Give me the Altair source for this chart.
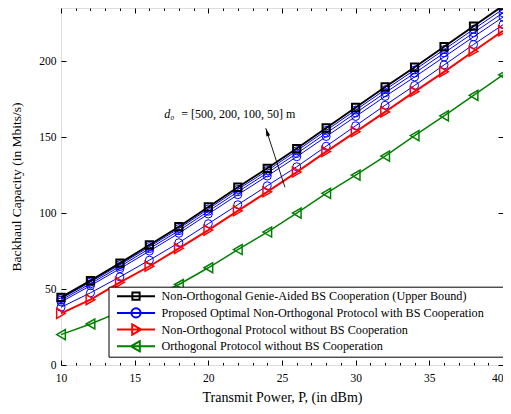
import altair as alt
import pandas as pd

SERIF = "Liberation Serif"

# ---------------- data ----------------
power_dbm = [10, 12, 14, 16, 18, 20, 22, 24, 26, 28, 30, 32, 34, 36, 38, 40]
genie_upper = [44.5, 55.5, 67.0, 79.0, 91.0, 104.0, 117.0, 129.5, 142.5, 156.0, 169.5, 183.0, 196.0, 209.5, 223.0, 236.5]
proposed_d50 = [43.7, 54.6, 66.0, 77.9, 89.8, 102.7, 115.6, 128.0, 141.0, 154.4, 167.8, 181.2, 194.2, 207.6, 221.0, 234.3]
proposed_d100 = [42.7, 53.5, 64.8, 76.6, 88.4, 101.2, 114.0, 126.4, 139.2, 152.6, 165.9, 179.2, 192.1, 205.4, 218.7, 231.8]
proposed_d200 = [41.5, 52.2, 63.4, 75.0, 86.7, 99.4, 112.1, 124.4, 137.1, 150.4, 163.6, 176.8, 189.6, 202.8, 216.0, 229.0]
proposed_d500 = [38.0, 47.5, 58.0, 69.0, 80.5, 93.0, 105.5, 118.0, 130.5, 144.0, 157.5, 171.0, 184.0, 197.5, 211.0, 224.0]
nonorth_nocoop = [34.0, 43.0, 54.4, 65.0, 76.8, 88.8, 101.5, 114.0, 127.0, 140.5, 153.5, 166.6, 180.0, 193.0, 206.5, 220.0]
orth_nocoop = [20.0, 27.0, 35.0, 44.0, 53.0, 64.0, 76.0, 87.5, 100.0, 113.0, 125.0, 137.5, 151.0, 164.0, 177.5, 191.0]

labels = [
    "Non-Orthogonal Genie-Aided BS Cooperation (Upper Bound)",
    "Proposed Optimal Non-Orthogonal Protocol with BS Cooperation",
    "Non-Orthogonal Protocol without BS Cooperation",
    "Orthogonal Protocol without BS Cooperation",
]
colors = ["#000000", "#0000ff", "#ff0000", "#008000"]

x_major = [10, 15, 20, 25, 30, 35, 40]
x_minor = [11, 12, 13, 14, 16, 17, 18, 19, 21, 22, 23, 24, 26, 27, 28, 29,
           31, 32, 33, 34, 36, 37, 38, 39]
y_ticks = [0, 50, 100, 150, 200]

annot_x = [17.0]
annot_y = [165.0]
arrow_from_x = [25.2]
arrow_from_y = [117.0]
arrow_to_x = [23.9]
arrow_to_y = [155.8]

# ---------------- tables ----------------
series = [
    ("genie", labels[0], genie_upper),
    ("d500", labels[1], proposed_d500),
    ("d200", labels[1], proposed_d200),
    ("d100", labels[1], proposed_d100),
    ("d50", labels[1], proposed_d50),
    ("nonorth", labels[2], nonorth_nocoop),
    ("orth", labels[3], orth_nocoop),
]
rows = []
for sid, grp, vals in series:
    for p, v in zip(power_dbm, vals):
        rows.append({"series": sid, "group": grp, "P": p, "C": v})
df = pd.DataFrame(rows)
legend_df = pd.DataFrame({"group": labels})
annot_df = pd.DataFrame({"x": annot_x, "y": annot_y})
arrow_df = pd.DataFrame({"x0": arrow_from_x, "y0": arrow_from_y,
                         "x1": arrow_to_x, "y1": arrow_to_y})

W, H = 442, 357
x_scale = alt.Scale(domain=[10, 40], nice=False, zero=False)
y_scale = alt.Scale(domain=[0, 235], nice=False, zero=False)


def tick_axis(orient, values, size):
    return alt.Axis(orient=orient, offset=-(H if orient in ("top", "bottom") else W),
                    values=values, labels=False, domain=False, grid=False,
                    ticks=True, tickSize=size, tickColor="black", tickWidth=1,
                    title=None)


ax_x_main = alt.Axis(orient="bottom", values=x_major, ticks=False, domain=False, grid=False,
                     labelFont=SERIF, labelFontSize=11.5, labelColor="black", labelPadding=7,
                     labelFlush=False,
                     labelAlign={"condition": {"test": "datum.value == 40", "value": "right"},
                                 "value": "center"},
                     title="Transmit Power, P, (in dBm)", titleFont=SERIF, titleFontSize=14,
                     titleFontWeight="normal", titleColor="black", titleY=36,
                     titleBaseline="alphabetic")
ax_y_main = alt.Axis(orient="left", values=y_ticks, ticks=False, domain=False, grid=False,
                     labelFont=SERIF, labelFontSize=11.5, labelColor="black", labelPadding=5,
                     labelFlush=False,
                     title="Backhaul Capacity (in Mbits/s)", titleFont=SERIF, titleFontSize=13.5,
                     titleFontWeight="normal", titleColor="black", titleX=-44.5, titleY=H / 2,
                     titleAngle=270, titleAlign="center", titleBaseline="middle")


def series_layer(group, color, lw, shape, size, msw, xaxis, yaxis):
    return alt.Chart(df).transform_filter(alt.datum.group == group).mark_line(
        color=color, strokeWidth=lw,
        point=alt.OverlayMarkDef(shape=shape, filled=False, size=size, strokeWidth=msw,
                                 color=color, opacity=1),
    ).encode(
        x=alt.X("P:Q", scale=x_scale, axis=xaxis),
        y=alt.Y("C:Q", scale=y_scale, axis=yaxis),
        detail="series:N",
    )


blue = series_layer(labels[1], colors[1], 1, "circle", 64, 1, ax_x_main, ax_y_main)
red = series_layer(labels[2], colors[2], 2, "triangle-right", 100, 1.5,
                   tick_axis("top", x_major, 5), tick_axis("right", y_ticks, 5))
green = series_layer(labels[3], colors[3], 1.5, "triangle-left", 100, 1.5,
                     tick_axis("bottom", x_major, 5), tick_axis("left", y_ticks, 5))
black = series_layer(labels[0], colors[0], 2, "square", 53, 2,
                     tick_axis("top", x_minor, 2.5), None)

legend_paths = [
    "M-1,0H1M-0.19,-0.19H0.19V0.19H-0.19Z",
    "M-1,0H1M-0.24,0A0.24 0.24 0 1 0 0.24,0A0.24 0.24 0 1 0 -0.24,0Z",
    "M-1,0H1M-0.2,-0.27L0.27,0L-0.2,0.27Z",
    "M-1,0H1M0.2,-0.27L-0.27,0L0.2,0.27Z",
]
leg = alt.Legend(orient="none", legendX=47.5, legendY=278.7, title=" ", titleOrient="right",
                 titlePadding=26, strokeColor="black", fillColor="white", padding=3,
                 symbolOffset=4.5, labelOffset=5.5, rowPadding=3.7, clipHeight=13,
                 symbolSize=1444, symbolStrokeWidth=2, labelFont=SERIF, labelFontSize=12.2,
                 labelColor="black", labelLimit=500)
legend_layer = alt.Chart(legend_df).transform_filter("false").mark_point(
    filled=False, size=1444, strokeWidth=2, opacity=1
).encode(
    color=alt.Color("group:N", scale=alt.Scale(domain=labels, range=colors), legend=leg),
    shape=alt.Shape("group:N", scale=alt.Scale(domain=labels, range=legend_paths), legend=leg),
)

text_d = alt.Chart(annot_df).mark_text(
    text="d₀", font=SERIF, fontStyle="italic", fontSize=12, align="left",
    baseline="middle", color="black"
).encode(x=alt.X("x:Q", scale=x_scale, axis=tick_axis("bottom", x_minor, 2.5)),
         y=alt.Y("y:Q", scale=y_scale, axis=None))
text_rest = alt.Chart(annot_df).mark_text(
    text="= [500, 200, 100, 50] m", font=SERIF, fontSize=12, align="left",
    baseline="middle", color="black", dx=17
).encode(x=alt.X("x:Q", scale=x_scale, axis=None), y=alt.Y("y:Q", scale=y_scale, axis=None))
arrow_line = alt.Chart(arrow_df).mark_rule(color="black", strokeWidth=0.9).encode(
    x=alt.X("x0:Q", scale=x_scale, axis=None), y=alt.Y("y0:Q", scale=y_scale, axis=None),
    x2="x1:Q", y2="y1:Q")
arrow_head = alt.Chart(arrow_df).mark_point(
    shape="M0,-1L-0.5,1L0.5,1Z", filled=True, size=64, angle=342, color="black",
    opacity=1, xOffset=1.25, yOffset=3.8
).encode(x=alt.X("x1:Q", scale=x_scale, axis=None), y=alt.Y("y1:Q", scale=y_scale, axis=None))

chart = alt.layer(
    blue, red, green, black, text_d, text_rest, arrow_line, arrow_head, legend_layer
).resolve_axis(x="independent", y="independent").properties(
    width=W, height=H, autosize="none",
    padding={"left": 53, "top": 0, "right": 0, "bottom": 41},
).configure_view(stroke="black", strokeWidth=1.2).configure(background="white")

chart.save("out.html", embed_options={"renderer": "svg", "actions": False})
